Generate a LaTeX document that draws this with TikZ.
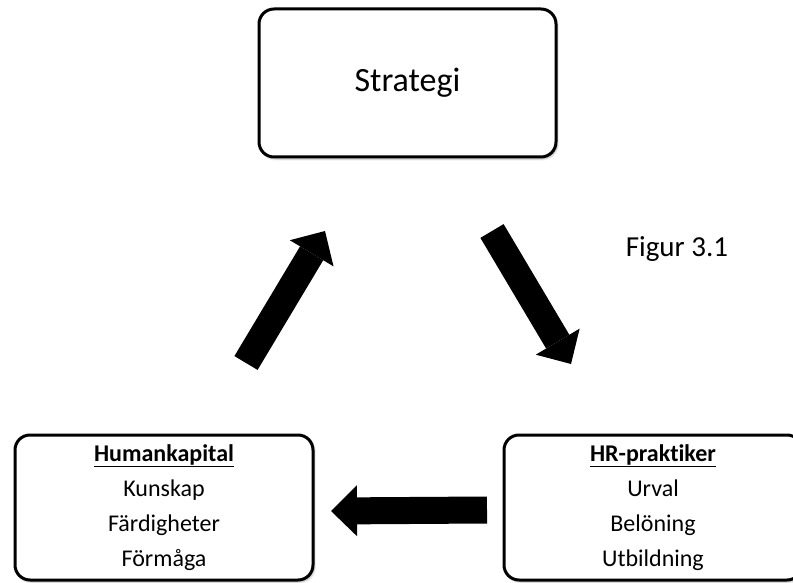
\documentclass[tikz,border=0pt]{standalone}
\usepackage{fontspec}
\setmainfont[Ligatures=NoCommon]{Carlito}
\usetikzlibrary{positioning,arrows.meta,shadows.blur}
\tikzset{
  box/.style={draw, line width=3pt, rounded corners=15pt, fill=white, inner sep=0pt,
    blur shadow={shadow xshift=1.5pt, shadow yshift=-2pt, shadow blur steps=4, shadow opacity=30}},
  bigarrow/.style={line width=27pt, -{Triangle[width=51pt,length=26pt,line width=0pt]}}
}
\begin{document}
\begin{tikzpicture}[x=1pt,y=-1pt]
\useasboundingbox (0,0) rectangle (793,583);
\clip (0,0) rectangle (793,583);
\node[box, minimum width=297pt, minimum height=148pt, font=\fontsize{34}{40}\selectfont] (s) at (407.5,83) {Strategi};
\node[box, minimum width=298pt, minimum height=145pt, align=center, font=\fontsize{24}{35}\selectfont] (h) at (164,507.5)
  {\underline{\textbf{Humankapital}}\\Kunskap\\Färdigheter\\Förmåga};
\node[box, minimum width=298pt, minimum height=145pt, align=center, font=\fontsize{24}{35}\selectfont] (p) at (653,507.5)
  {\underline{\textbf{HR-praktiker}}\\Urval\\Belöning\\Utbildning};
\node[font=\fontsize{29}{34}\selectfont] (f) at (677,249) {Figur 3.1};
% block arrows between the boxes
\coordinate (a1) at (246,363);
\coordinate (b1) at (325,231);
\coordinate (a2) at (492,231);
\coordinate (b2) at (571,364);
\coordinate (a3) at (487,510);
\coordinate (b3) at (331,511);
\draw[bigarrow] (a1) -- (b1);
\draw[bigarrow] (a2) -- (b2);
\draw[bigarrow] (a3) -- (b3);
\end{tikzpicture}
\end{document}
